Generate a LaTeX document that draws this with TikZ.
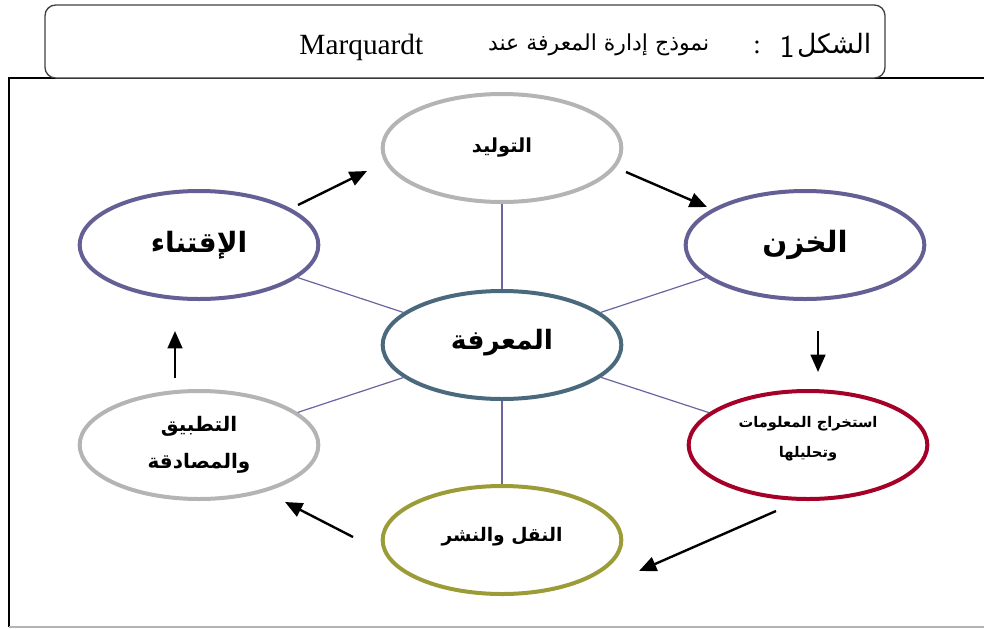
\documentclass[tikz,border=0pt]{standalone}
\usepackage{fontspec}
\setmainfont{Liberation Serif}
\newfontfamily\arabicfont[Script=Arabic]{DejaVu Sans}
\TeXXeTstate=1
\usetikzlibrary{shapes.geometric,arrows.meta}

\definecolor{ringgray}{RGB}{180,180,180}
\definecolor{ringpurple}{RGB}{100,96,150}
\definecolor{ringsteel}{RGB}{75,105,125}
\definecolor{ringred}{RGB}{165,0,40}
\definecolor{ringolive}{RGB}{155,155,55}
\definecolor{spokecol}{RGB}{106,100,160}

\tikzset{
  bubble/.style={ellipse, line width=3pt, fill=white, minimum width=179pt,
    minimum height=81pt, inner sep=0pt, align=center},
  spoke/.style={spokecol, line width=0.9pt},
  flow/.style={black, line width=1.8pt, -{Triangle[length=13pt,width=11pt]}},
}
\newcommand{\ar}[1]{\beginR #1\endR}
\newcommand{\bubblefont}[1]{\arabicfont\bfseries\fontsize{#1}{1.6\dimexpr #1pt\relax}\selectfont}

\begin{document}
\begin{tikzpicture}[x=0.75pt,y=-0.75pt]
	\useasboundingbox (0,0) rectangle (984,628);
	
	% الإطار الخارجي
	\draw[line width=1.6pt] (984,78) -- (9,78) -- (9,627);
	\draw[ringgray, line width=1.2pt] (9,627) -- (984,627);
	
	% عنوان الشكل
	\draw[black!75, line width=1pt, fill=white, rounded corners=8pt] (45,5) rectangle (885,78);
	\node[anchor=east, font=\arabicfont\fontsize{20}{24}\selectfont] (figword) at (876,45) {\ar{الشكل}};
	\node[anchor=east, inner sep=0pt, font=\sffamily\fontsize{24}{26}\selectfont] (fignum) at (795,47) {1};
	\node[inner sep=0pt, font=\fontsize{20}{24}\selectfont] (figcolon) at (757,47) {:};
	\node[anchor=east, font=\arabicfont\fontsize{16.5}{24}\selectfont] (figtitle) at (714,45) {\ar{نموذج إدارة المعرفة عند}};
	\node[anchor=east, font=\fontsize{22}{24}\selectfont] (figauthor) at (428,47) {Marquardt};
	
	% الحلقات
	\node[bubble, draw=ringsteel] (know) at (502,345) {\raisebox{9pt}{\bubblefont{20}\ar{المعرفة}}};
	\node[bubble, draw=ringgray] (gen) at (502,148) {\raisebox{5pt}{\bubblefont{14.5}\ar{التوليد}}};
	\node[bubble, draw=ringpurple] (store) at (805,245) {\bubblefont{22}\ar{الخزن}};
	\node[bubble, draw=ringred, font=\bubblefont{11}, text depth=12pt] (extract) at (808,445) {\ar{استخراج المعلومات}\\[5pt]\ar{وتحليلها}};
	\node[bubble, draw=ringolive] (share) at (502,540) {\raisebox{8pt}{\bubblefont{14}\ar{النقل والنشر}}};
	\node[bubble, draw=ringgray, font=\bubblefont{15}] (apply) at (199,445) {\ar{التطبيق}\\[4pt]\ar{والمصادقة}};
	\node[bubble, draw=ringpurple] (acquire) at (199,245) {\bubblefont{21}\ar{الإقتناء}};
	
	% الخطوط بين المركز والحلقات
	\foreach \ring in {gen,store,extract,share,apply,acquire}
		\draw[spoke] (know) -- (\ring);
	
	% الأسهم
	\coordinate (f1s) at (298,205); \coordinate (f1e) at (367,171);
	\coordinate (f2s) at (626,172); \coordinate (f2e) at (707,207);
	\coordinate (f3s) at (818,331); \coordinate (f3e) at (818,372);
	\coordinate (f4s) at (776,511); \coordinate (f4e) at (639,571);
	\coordinate (f5s) at (353,537); \coordinate (f5e) at (285,502);
	\coordinate (f6s) at (175,378); \coordinate (f6e) at (175,331);
	\draw[flow] (f1s) -- (f1e);
	\draw[flow] (f2s) -- (f2e);
	\draw[flow] (f3s) -- (f3e);
	\draw[flow] (f4s) -- (f4e);
	\draw[flow] (f5s) -- (f5e);
	\draw[flow] (f6s) -- (f6e);
	
\end{tikzpicture}
\end{document}
